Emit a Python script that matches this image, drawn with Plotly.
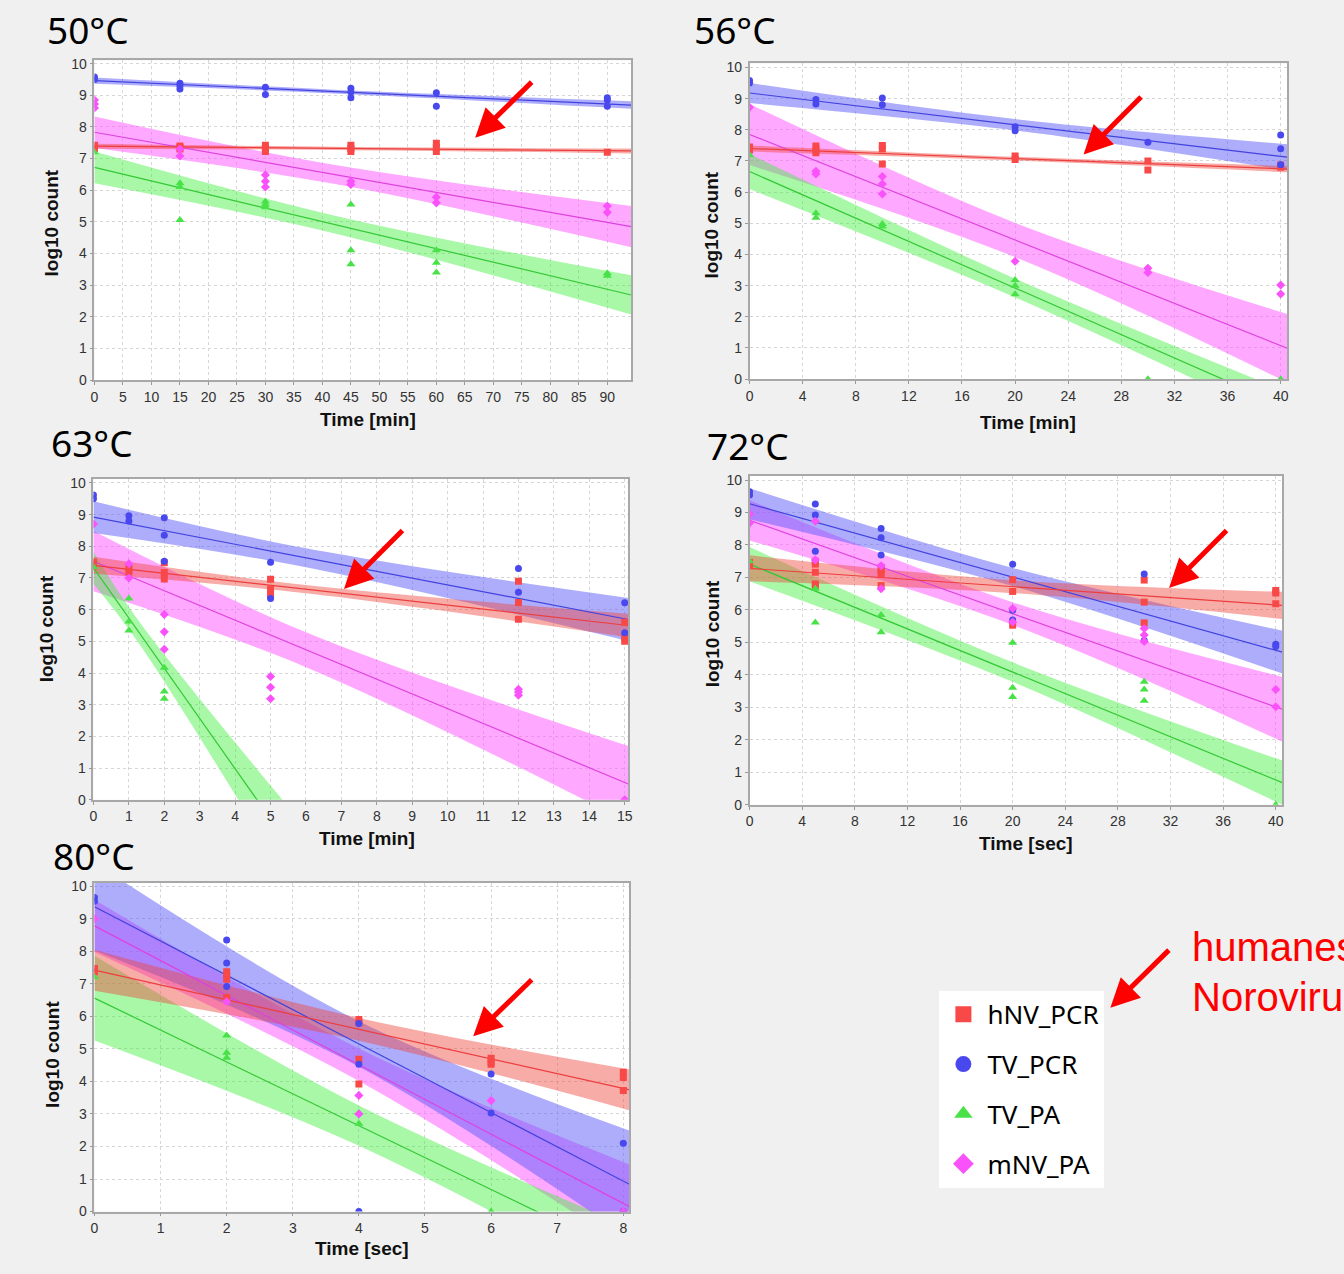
import plotly.graph_objects as go

W, H = 1344, 1274

# ---------------- series definitions ----------------
series_names = ["hNV_PCR", "TV_PCR", "TV_PA", "mNV_PA"]
marker_symbols = ["square", "circle", "triangle-up", "diamond"]
point_colors = ["rgb(248,72,72)", "rgb(72,72,238)", "rgb(72,226,72)", "rgb(250,82,250)"]
line_colors = ["rgb(236,62,62)", "rgb(66,66,222)", "rgb(52,200,52)", "rgb(222,66,222)"]
band_colors = ["rgba(240,72,62,0.45)", "rgba(92,92,250,0.5)", "rgba(62,240,62,0.45)", "rgba(255,82,255,0.5)"]
band_order = [3, 2, 1, 0]

# ---------------- 50 °C (time in min) ----------------
x50_hNV = [0, 0, 15, 15, 15, 30, 30, 30, 45, 45, 45, 60, 60, 60, 90]
y50_hNV = [7.42, 7.32, 7.4, 7.35, 7.3, 7.42, 7.32, 7.22, 7.42, 7.32, 7.22, 7.48, 7.35, 7.22, 7.2]
x50_TVPCR = [0, 0, 15, 15, 15, 30, 30, 45, 45, 45, 60, 60, 90, 90, 90]
y50_TVPCR = [9.58, 9.5, 9.38, 9.3, 9.2, 9.25, 9.02, 9.22, 9.1, 8.92, 9.08, 8.65, 8.92, 8.85, 8.65]
x50_TVPA = [0, 15, 15, 15, 30, 30, 30, 45, 45, 45, 60, 60, 60, 90, 90]
y50_TVPA = [7.2, 6.22, 6.1, 5.06, 5.64, 5.55, 5.46, 5.55, 4.1, 3.66, 4.1, 3.71, 3.4, 3.38, 3.3]
x50_mNV = [0, 0, 0, 15, 15, 30, 30, 30, 45, 45, 60, 60, 90, 90]
y50_mNV = [8.85, 8.72, 8.6, 7.3, 7.08, 6.48, 6.28, 6.1, 6.28, 6.18, 5.78, 5.6, 5.5, 5.3]
fit50_x = [0, 42, 94.2]
fit50_start = [7.39, 9.46, 6.72, 7.83]
fit50_end = [7.24, 8.69, 2.69, 4.85]
band50_hw = [[0.08, 0.05, 0.08], [0.1, 0.06, 0.12], [0.5, 0.28, 0.62], [0.5, 0.3, 0.65]]

# ---------------- 56 °C (time in min) ----------------
x56_hNV = [0, 0, 5, 5, 5, 10, 10, 10, 20, 20, 30, 30, 40, 40]
y56_hNV = [7.45, 7.35, 7.48, 7.35, 7.26, 7.5, 7.38, 6.9, 7.16, 7.05, 7.0, 6.71, 6.87, 6.8]
x56_TVPCR = [0, 0, 5, 5, 10, 10, 20, 20, 30, 40, 40, 40]
y56_TVPCR = [9.58, 9.5, 8.97, 8.83, 9.02, 8.8, 8.1, 7.97, 7.6, 7.83, 7.39, 6.88]
x56_TVPA = [0, 5, 5, 10, 10, 20, 20, 20, 30, 40]
y56_TVPA = [7.19, 5.32, 5.18, 4.98, 4.9, 3.18, 3.0, 2.72, 0, 0]
x56_mNV = [0, 5, 5, 10, 10, 10, 20, 30, 30, 40, 40]
y56_mNV = [8.72, 6.67, 6.58, 6.5, 6.26, 5.94, 3.78, 3.56, 3.42, 3.02, 2.73]
fit56_x = [0, 20, 40.5]
fit56_start = [7.40, 9.18, 6.66, 7.85]
fit56_end = [6.74, 7.12, -0.91, 0.99]
band56_hw = [[0.1, 0.06, 0.1], [0.32, 0.18, 0.42], [0.56, 0.3, 0.5], [0.98, 0.55, 1.1]]

# ---------------- 63 °C (time in min) ----------------
x63_hNV = [0, 0, 1, 1, 2, 2, 2, 5, 5, 5, 12, 12, 12, 15, 15, 15]
y63_hNV = [7.5, 7.38, 7.3, 7.19, 7.48, 7.17, 6.97, 6.96, 6.65, 6.47, 6.9, 6.23, 5.7, 5.6, 5.13, 5.0]
x63_TVPCR = [0, 0, 1, 1, 2, 2, 2, 5, 5, 12, 12, 15, 15]
y63_TVPCR = [9.62, 9.5, 8.96, 8.8, 8.9, 8.35, 7.53, 7.5, 6.35, 7.3, 6.55, 6.22, 5.27]
x63_TVPA = [0, 1, 1, 1, 2, 2, 2]
y63_TVPA = [7.35, 6.35, 5.63, 5.34, 4.17, 3.42, 3.19]
x63_mNV = [0, 1, 1, 2, 2, 2, 5, 5, 5, 12, 12, 12, 15]
y63_mNV = [8.7, 7.45, 7.0, 5.85, 5.3, 4.75, 3.89, 3.55, 3.19, 3.49, 3.4, 3.3, 0]
fit63_x = [[0, 6, 15.1], [0, 6, 15.1], [0, 1.3, 6], [0, 6, 15.1]]
fit63_start = [7.40, 8.92, 7.32, 7.53]
fit63_end = [5.50, 5.69, -2.19, 0.5]
band63_hw = [[0.27, 0.13, 0.37], [0.5, 0.3, 0.68], [0.5, 0.35, 1.3], [0.95, 0.55, 1.2]]

# ---------------- 72 °C (time in sec) ----------------
x72_hNV = [0, 0, 5, 5, 5, 5, 5, 10, 10, 10, 10, 20, 20, 20, 30, 30, 30, 40, 40, 40]
y72_hNV = [7.46, 7.36, 7.5, 7.41, 7.16, 6.8, 6.75, 7.31, 7.21, 7.1, 6.75, 6.93, 6.57, 5.53, 6.92, 6.24, 5.6, 6.6, 6.52, 6.19]
x72_TVPCR = [0, 0, 5, 5, 5, 10, 10, 10, 20, 20, 20, 30, 30, 40, 40]
y72_TVPCR = [9.64, 9.54, 9.26, 8.92, 7.81, 8.51, 8.22, 7.69, 7.41, 5.99, 5.69, 7.11, 5.06, 4.94, 4.87]
x72_TVPA = [0, 5, 5, 10, 10, 20, 20, 20, 30, 30, 30, 40]
y72_TVPA = [7.5, 6.65, 5.61, 5.84, 5.31, 4.99, 3.6, 3.32, 3.79, 3.55, 3.2, 0]
x72_mNV = [0, 0, 5, 5, 10, 10, 20, 20, 30, 30, 30, 40, 40]
y72_mNV = [8.95, 8.68, 8.73, 7.54, 7.36, 6.65, 6.04, 5.63, 5.43, 5.23, 5.03, 3.55, 3.02]
fit72_x = [0, 20, 40.5]
fit72_start = [7.28, 9.27, 7.41, 8.76]
fit72_end = [6.14, 4.70, 0.68, 2.94]
band72_hw = [[0.4, 0.2, 0.42], [0.48, 0.28, 0.66], [0.53, 0.3, 0.68], [0.62, 0.35, 1.0]]

# ---------------- 80 °C (time in sec) ----------------
x80_hNV = [0, 0, 2, 2, 2, 2, 4, 4, 4, 4, 6, 6, 6, 8, 8, 8]
y80_hNV = [7.47, 7.37, 7.37, 7.26, 7.14, 6.58, 5.9, 5.8, 4.68, 3.92, 4.71, 4.6, 4.53, 4.28, 4.12, 3.72]
x80_TVPCR = [0, 0, 2, 2, 2, 4, 4, 4, 6, 6, 8, 8]
y80_TVPCR = [9.65, 9.54, 8.35, 7.64, 6.92, 5.78, 4.53, 0, 4.23, 3.03, 2.1, 0]
x80_TVPA = [0, 2, 2, 2, 4, 4, 6]
y80_TVPA = [7.2, 5.41, 4.88, 4.73, 3.03, 2.7, 0]
x80_mNV = [0, 2, 4, 4, 6, 8]
y80_mNV = [9.0, 6.45, 3.57, 3.0, 3.41, 0]
fit80_x = [0, 4, 8.1]
fit80_start = [7.42, 9.37, 6.56, 8.78]
fit80_end = [3.74, 0.83, -1.38, 0.14]
band80_hw = [[0.63, 0.35, 0.63], [1.35, 0.7, 1.65], [1.3, 0.62, 0.9], [0.8, 0.5, 1.3]]

x_tick_step = [5, 4, 1, 4, 1]
panel_titles = ["50°C", "56°C", "63°C", "72°C", "80°C"]
x_titles = ["Time [min]", "Time [min]", "Time [min]", "Time [sec]", "Time [sec]"]
y_title = "log10 count"
note_lines = ["humanes", "Norovirus"]

panels = [
    dict(pts=[(x50_hNV, y50_hNV), (x50_TVPCR, y50_TVPCR), (x50_TVPA, y50_TVPA), (x50_mNV, y50_mNV)],
         fx=fit50_x, fs=fit50_start, fe=fit50_end, hw=band50_hw,
         px=(91, 631), py=(379, 56), xr=94.2, yr=10.1,
         title=(41, 25), xt=(366, 419), yt=(48, 220), arrow=((474, 134), (532, 77))),
    dict(pts=[(x56_hNV, y56_hNV), (x56_TVPCR, y56_TVPCR), (x56_TVPA, y56_TVPA), (x56_mNV, y56_mNV)],
         fx=fit56_x, fs=fit56_start, fe=fit56_end, hw=band56_hw,
         px=(750, 1291), py=(378, 59), xr=40.5, yr=10.13,
         title=(692, 25), xt=(1030, 422), yt=(712, 222), arrow=((1086, 151), (1145, 92))),
    dict(pts=[(x63_hNV, y63_hNV), (x63_TVPCR, y63_TVPCR), (x63_TVPA, y63_TVPA), (x63_mNV, y63_mNV)],
         fx=fit63_x, fs=fit63_start, fe=fit63_end, hw=band63_hw,
         px=(90, 628), py=(803, 479), xr=15.1, yr=10.12,
         title=(45, 442), xt=(365, 842), yt=(43, 630), arrow=((342, 590), (402, 530))),
    dict(pts=[(x72_hNV, y72_hNV), (x72_TVPCR, y72_TVPCR), (x72_TVPA, y72_TVPA), (x72_mNV, y72_mNV)],
         fx=fit72_x, fs=fit72_start, fe=fit72_end, hw=band72_hw,
         px=(750, 1286), py=(808, 476), xr=40.5, yr=10.12,
         title=(705, 445), xt=(1028, 847), yt=(713, 635), arrow=((1172, 589), (1231, 530))),
    dict(pts=[(x80_hNV, y80_hNV), (x80_TVPCR, y80_TVPCR), (x80_TVPA, y80_TVPA), (x80_mNV, y80_mNV)],
         fx=fit80_x, fs=fit80_start, fe=fit80_end, hw=band80_hw,
         px=(91, 629), py=(1219, 887), xr=8.09, yr=10.1,
         title=(47, 859), xt=(360, 1256), yt=(48, 1060), arrow=((472, 1042), (532, 984))),
]

fig = go.Figure()
annotations = []
layout_axes = {}


def fx_(px):
    return px / W


def fy_(py):
    return 1 - py / H


def fit_x(p, s):
    return p["fx"][s] if isinstance(p["fx"][0], list) else p["fx"]


for i, p in enumerate(panels):
    ax_id = "" if i == 0 else str(i + 1)
    xref, yref = "x" + ax_id, "y" + ax_id
    # confidence bands
    for s in band_order:
        xs = fit_x(p, s)
        x0, x1 = xs[0], xs[-1]
        y0, y1 = p["fs"][s], p["fe"][s]
        centre = [y0 + (y1 - y0) * (xx - x0) / (x1 - x0) for xx in xs]
        hw = p["hw"][s]
        lower = [c - h for c, h in zip(centre, hw)]
        upper = [c + h for c, h in zip(centre, hw)]
        fig.add_trace(go.Scatter(x=xs, y=lower, mode="lines", line=dict(width=0, shape="spline"),
                                 xaxis=xref, yaxis=yref, showlegend=False, hoverinfo="skip"))
        fig.add_trace(go.Scatter(x=xs, y=upper, mode="lines", line=dict(width=0, shape="spline"),
                                 fill="tonexty", fillcolor=band_colors[s],
                                 xaxis=xref, yaxis=yref, showlegend=False, hoverinfo="skip"))
    # fitted lines
    for s in band_order:
        xs = fit_x(p, s)
        fig.add_trace(go.Scatter(x=[xs[0], xs[-1]], y=[p["fs"][s], p["fe"][s]], mode="lines",
                                 line=dict(color=line_colors[s], width=1.2),
                                 xaxis=xref, yaxis=yref, showlegend=False, hoverinfo="skip"))
    # data points
    for s in range(4):
        xs, ys = p["pts"][s]
        size = 7 if s != 2 else 8
        fig.add_trace(go.Scatter(x=xs, y=ys, mode="markers", name=series_names[s],
                                 marker=dict(symbol=marker_symbols[s], size=size, color=point_colors[s]),
                                 xaxis=xref, yaxis=yref, showlegend=False, cliponaxis=True))
    # axes
    common = dict(showgrid=True, gridcolor="#d6d6d6", griddash="dot", gridwidth=1,
                  showline=True, linecolor="#a8a8a8", linewidth=1.5, mirror=True,
                  zeroline=False, ticks="outside", ticklen=3, tickcolor="#999999",
                  tickfont=dict(family="Liberation Sans", size=14, color="#333333"))
    layout_axes["xaxis" + ax_id] = dict(common, domain=[fx_(p["px"][0]), fx_(p["px"][1])],
                                        range=[0, p["xr"]], dtick=x_tick_step[i], tick0=0,
                                        anchor=yref)
    layout_axes["yaxis" + ax_id] = dict(common, domain=[fy_(p["py"][0]), fy_(p["py"][1])],
                                        range=[0, p["yr"]], dtick=1, tick0=0, anchor=xref)
    # texts
    annotations.append(dict(text=panel_titles[i], x=fx_(p["title"][0]), y=fy_(p["title"][1]),
                            xref="paper", yref="paper", xanchor="left", yanchor="middle",
                            showarrow=False, font=dict(family="Noto Sans", size=37, color="black")))
    annotations.append(dict(text="<b>" + x_titles[i] + "</b>", x=fx_(p["xt"][0]), y=fy_(p["xt"][1]),
                            xref="paper", yref="paper", xanchor="center", yanchor="middle",
                            showarrow=False, font=dict(family="Liberation Sans", size=19, color="#111111")))
    annotations.append(dict(text="<b>" + y_title + "</b>", x=fx_(p["yt"][0]), y=fy_(p["yt"][1]),
                            xref="paper", yref="paper", xanchor="center", yanchor="middle",
                            textangle=-90, showarrow=False,
                            font=dict(family="Liberation Sans", size=19, color="#111111")))
    (tx, ty), (sx, sy) = p["arrow"]
    annotations.append(dict(text="", x=fx_(tx), y=fy_(ty), xref="paper", yref="paper",
                            ax=sx - tx, ay=sy - ty, showarrow=True, arrowhead=2, arrowsize=1.15,
                            arrowwidth=5, arrowcolor="#ff0000"))

# legend entries
for s in range(4):
    fig.add_trace(go.Scatter(x=[None], y=[None], mode="markers", name=series_names[s],
                             legendgroup=series_names[s],
                             marker=dict(symbol=marker_symbols[s], size=18, color=point_colors[s]),
                             showlegend=True))

# red note and its arrow
for k, line_text in enumerate(note_lines):
    annotations.append(dict(text=line_text, x=fx_(1193), y=fy_(952 + 50 * k), xref="paper", yref="paper",
                            xanchor="left", yanchor="middle", align="left", showarrow=False,
                            font=dict(family="Liberation Sans", size=40, color="#ff0000")))
annotations.append(dict(text="", x=fx_(1113), y=fy_(1013), xref="paper", yref="paper",
                        ax=1173 - 1113, ay=954 - 1013, showarrow=True, arrowhead=2, arrowsize=1.15,
                        arrowwidth=5, arrowcolor="#ff0000"))

fig.update_layout(
    width=W, height=H,
    margin=dict(l=0, r=0, t=0, b=0),
    paper_bgcolor="#f0f0f0", plot_bgcolor="white",
    showlegend=True,
    legend=dict(x=fx_(941), y=fy_(996), xanchor="left", yanchor="top",
                bgcolor="white", font=dict(family="Noto Sans", size=26, color="black"),
                tracegroupgap=13, itemsizing="trace", itemwidth=38),
    annotations=annotations,
    **layout_axes,
)

fig.write_html("out.html", config={"displayModeBar": False},
               post_script="document.body.style.margin='0';document.body.style.overflow='hidden';")
